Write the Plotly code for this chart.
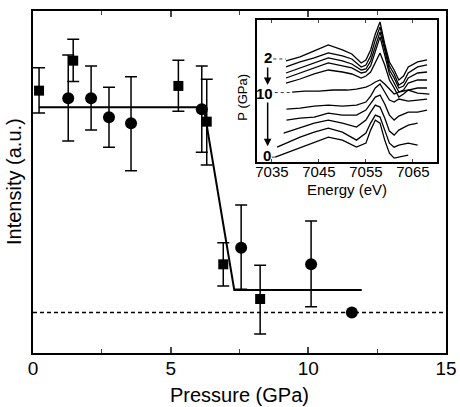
import plotly.graph_objects as go

# ---------------- main panel data ----------------
sq_p  = [0.22, 1.46, 5.28, 6.31, 6.91, 8.25]
sq_i  = [1.081, 1.227, 1.104, 0.930, 0.235, 0.066]
sq_hi = [1.193, 1.331, 1.229, 1.136, 0.340, 0.231]
sq_lo = [0.972, 1.125, 0.981, 0.719, 0.129, -0.105]

ci_p  = [1.28, 2.11, 2.76, 3.56, 6.13, 7.56, 10.1, 11.58]
ci_i  = [1.044, 1.044, 0.951, 0.922, 0.990, 0.316, 0.235, 0.0]
ci_hi = [1.255, 1.201, 1.097, 1.149, 1.201, 0.524, 0.446, 0.0]
ci_lo = [0.836, 0.889, 0.805, 0.691, 0.781, 0.113, 0.028, 0.0]

fit_p = [0.22, 6.2, 7.31, 11.94]
fit_i = [1.0, 1.0, 0.11, 0.11]

base_p = [0, 15]
base_i = [0.0, 0.0]

x_ticks = [0, 5, 10, 15]

# ---------------- inset spectra (offset-stacked, arb. units) ----------------
e_top = [7038, 7041, 7044, 7047, 7050, 7052, 7054, 7055, 7056, 7057, 7058,
         7059, 7060, 7061, 7062, 7063, 7064, 7066, 7068]
s1 = [101, 105, 111, 117, 112, 108, 99, 102, 112, 128, 140, 118, 100, 92, 82, 86, 95, 100, 102]
s2 = [95, 100, 104, 109, 106, 103, 95, 97, 106, 122, 135, 116, 96, 88, 77, 80, 89, 95, 97]
s3 = [89, 94, 99, 104, 101, 98, 92, 93, 101, 116, 130, 112, 92, 84, 74, 76, 84, 89, 90]
s4 = [84, 89, 94, 99, 96, 94, 89, 90, 96, 110, 125, 107, 88, 79, 70, 72, 79, 82, 82]
s5 = [79, 83, 88, 92, 90, 88, 84, 86, 90, 100, 109, 97, 82, 74, 65, 68, 72, 74, 74]

e6 = [7039.3, 7042, 7045, 7048, 7051, 7053, 7055, 7056, 7057, 7058, 7059,
      7060, 7061, 7062, 7064, 7066, 7068.5]
s6 = [70, 71, 71, 72, 72, 73, 75, 77, 80, 82, 78, 73, 68, 70, 72, 69, 68]

e7 = [7038.1, 7041, 7044, 7047, 7050, 7053, 7055, 7056, 7057, 7058, 7059,
      7060, 7061, 7062, 7064, 7066, 7068]
s7 = [53, 54, 56, 57, 56, 57, 60, 66, 74, 78, 70, 62, 60, 63, 61, 62, 63]
s8 = [42, 44, 45, 49, 47, 47, 52, 59, 65, 67, 58, 47, 42, 46, 50, 50, 52]

e9 = [7037.5, 7041, 7044, 7047, 7050, 7053, 7055, 7056, 7057, 7058, 7059,
      7060, 7061, 7062, 7064, 7066]
s9 = [29, 34, 39, 42, 39, 35, 42, 50, 57, 55, 44, 31, 27, 32, 37, 39]

e10 = [7036.1, 7038, 7041, 7044, 7047, 7050, 7053, 7055, 7056, 7057, 7058,
       7059, 7060, 7061, 7062, 7064, 7066]
s10 = [15, 19, 25, 30, 34, 30, 22, 29, 39, 47, 45, 32, 19, 15, 17, 19, 17]

e11 = [7035.7, 7038, 7041, 7044, 7047, 7050, 7053, 7055, 7056, 7057, 7058,
       7059, 7060, 7061, 7062, 7064]
s11 = [5, 9, 14, 20, 25, 22, 15, 19, 32, 42, 39, 22, 9, 4, 5, 7]

spectra = [(e_top, s1), (e_top, s2), (e_top, s3), (e_top, s4), (e_top, s5),
           (e6, s6), (e7, s7), (e7, s8), (e9, s9), (e10, s10), (e11, s11)]

inset_ticks = [7035, 7045, 7055, 7065]
p_labels = ["2", "10", "0"]
p_label_e = [7034.1, 7033.5, 7033.9]
p_label_y = [104, 69, 7]

FONT = "Liberation Sans, Arial, Helvetica, sans-serif"

fig = go.Figure()

fig.add_trace(go.Scatter(x=base_p, y=base_i, mode="lines",
                         line=dict(color="black", width=1.5, dash="4px,3px"),
                         showlegend=False, hoverinfo="skip"))
fig.add_trace(go.Scatter(x=fit_p, y=fit_i, mode="lines",
                         line=dict(color="black", width=2),
                         showlegend=False, hoverinfo="skip"))
fig.add_trace(go.Scatter(
    x=sq_p, y=sq_i, mode="markers",
    marker=dict(symbol="square", size=10, color="black"),
    error_y=dict(type="data", symmetric=False,
                 array=[h - v for h, v in zip(sq_hi, sq_i)],
                 arrayminus=[v - l for v, l in zip(sq_i, sq_lo)],
                 color="black", thickness=1.5, width=6),
    showlegend=False))
fig.add_trace(go.Scatter(
    x=ci_p, y=ci_i, mode="markers",
    marker=dict(symbol="circle", size=12, color="black"),
    error_y=dict(type="data", symmetric=False,
                 array=[h - v for h, v in zip(ci_hi, ci_i)],
                 arrayminus=[v - l for v, l in zip(ci_i, ci_lo)],
                 color="black", thickness=1.5, width=6),
    showlegend=False))

for e, s in spectra:
    fig.add_trace(go.Scatter(x=e, y=s, mode="lines", xaxis="x2", yaxis="y2",
                             line=dict(color="black", width=1.3),
                             showlegend=False, hoverinfo="skip"))

leaders = [([7035.3, 7038.0], [103, 103]),
           ([7035.6, 7039.0], [69.5, 69.5]),
           ([7035.0, 7036.0], [5, 5])]
for lx, ly in leaders:
    fig.add_trace(go.Scatter(x=lx, y=ly, mode="lines", xaxis="x2", yaxis="y2",
                             line=dict(color="black", width=0.8, dash="dot"),
                             showlegend=False, hoverinfo="skip"))

annotations = []
for t, ex, ey in zip(p_labels, p_label_e, p_label_y):
    annotations.append(dict(x=ex, y=ey, xref="x2", yref="y2", text="<b>%s</b>" % t,
                            xanchor="center", yanchor="middle",
                            showarrow=False, font=dict(family=FONT, size=15, color="black")))
for y0, y1 in [(96, 77), (61, 16)]:
    annotations.append(dict(x=7034.1, y=y1, ax=7034.1, ay=y0, xref="x2", yref="y2",
                            axref="x2", ayref="y2", text="", showarrow=True,
                            arrowhead=2, arrowsize=1, arrowwidth=1.5, arrowcolor="black"))
annotations.append(dict(x=0.760, y=0.477, xref="paper", yref="paper", text="Energy (eV)",
                        xanchor="center", yanchor="middle",
                        showarrow=False, font=dict(family=FONT, size=15, color="black")))
annotations.append(dict(x=0.508, y=0.749, xref="paper", yref="paper", text="P (GPa)",
                        xanchor="center", yanchor="middle",
                        textangle=-90, showarrow=False,
                        font=dict(family=FONT, size=13, color="black")))
annotations.append(dict(x=0.5, y=(353 - 395) / 342, xref="paper", yref="paper",
                        xanchor="center", yanchor="middle",
                        text="Pressure (GPa)", showarrow=False,
                        font=dict(family=FONT, size=20, color="black")))
annotations.append(dict(x=(14 - 33) / 413, y=0.5, xref="paper", yref="paper",
                        xanchor="center", yanchor="middle",
                        text="Intensity (a.u.)", textangle=-90, showarrow=False,
                        font=dict(family=FONT, size=20, color="black")))

fig.update_layout(
    width=460, height=407,
    margin=dict(l=33, r=14, t=11, b=54),
    paper_bgcolor="white", plot_bgcolor="white",
    font=dict(family=FONT, color="black"),
    annotations=annotations,
    xaxis=dict(range=[0, 15], tickvals=x_ticks, ticks="inside", ticklen=6, tickwidth=1.5,
               minor=dict(tickvals=[2.5, 7.5, 12.5], ticks="inside", ticklen=4, tickwidth=1.2),
               showline=True, linecolor="black", linewidth=2, mirror="ticks",
               showgrid=False, zeroline=False, automargin=False, ticklabelstandoff=-3,
               tickfont=dict(family=FONT, size=19, color="black")),
    yaxis=dict(range=[-0.197, 1.469], showticklabels=False, ticks="",
               showline=True, linecolor="black", linewidth=2, mirror=True,
               showgrid=False, zeroline=False, automargin=False),
    xaxis2=dict(domain=[0.542, 0.978], anchor="y2", range=[7031.8, 7070.1],
                tickvals=inset_ticks, ticks="inside", ticklen=3, tickwidth=1,
                showline=True, linecolor="black", linewidth=1.5, mirror="ticks",
                showgrid=False, zeroline=False, automargin=False, ticklabelstandoff=-5,
                tickfont=dict(family=FONT, size=15, color="black")),
    yaxis2=dict(domain=[0.558, 0.974], anchor="x2", range=[0, 142],
                showticklabels=False, ticks="",
                showline=True, linecolor="black", linewidth=1.5, mirror=True,
                showgrid=False, zeroline=False, automargin=False),
)

fig.write_html("out.html", config={"displayModeBar": False},
               post_script="document.body.style.margin='0';document.body.style.padding='0';")
